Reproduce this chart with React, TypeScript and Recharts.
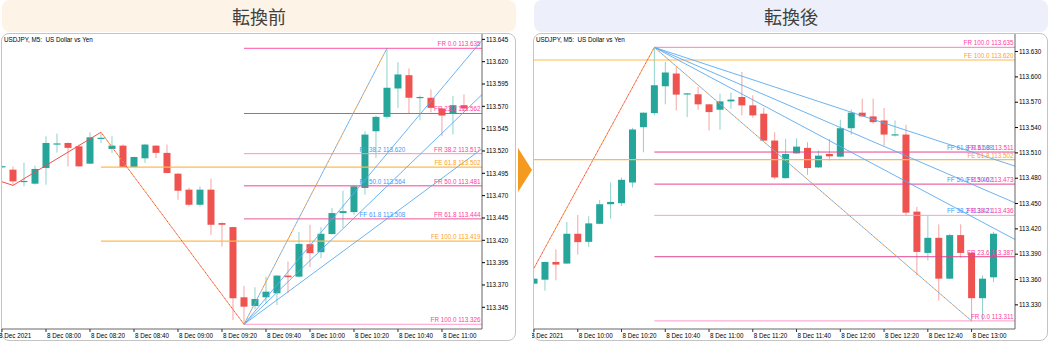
import React from "react";
import { ComposedChart, Bar, XAxis, YAxis, ReferenceLine } from "recharts";

const FONT = "'Liberation Sans', Arial, sans-serif";
const CJK = "'Noto Sans CJK JP', sans-serif";
const TITLE = "USDJPY, M5:  US Dollar vs Yen";
const FS = 6.3;

type Pt = [number, number];

// ---------- 転換前 : 5 minute bars starting 8 Dec 07:40 ----------
const beforeOpen = [
  113.5025, 113.4991, 113.486, 113.4834, 113.501, 113.5283, 113.529, 113.5252, 113.5058, 113.5345,
  113.5223, 113.526, 113.5021, 113.5118, 113.526, 113.5179, 113.4946, 113.4767, 113.4598, 113.4767,
  113.4393, 113.4348, 113.3562, 113.3465, 113.3562, 113.3607, 113.3805, 113.3793, 113.4157, 113.4067,
  113.427, 113.4505, 113.4516, 113.4786, 113.5421, 113.5582, 113.59, 113.6049, 113.5801, 113.5796,
  113.5676, 113.5616, 113.5713,
];
const beforeHigh = [
  113.504, 113.5028, 113.507, 113.5036, 113.5365, 113.5395, 113.5294, 113.5272, 113.541, 113.541,
  113.5365, 113.5275, 113.5136, 113.528, 113.5265, 113.5272, 113.4955, 113.4789, 113.4804, 113.489,
  113.44, 113.4352, 113.3689, 113.3674, 113.3793, 113.381, 113.3962, 113.4292, 113.4374, 113.4348,
  113.4561, 113.4755, 113.4815, 113.5421, 113.5597, 113.635, 113.6195, 113.6125, 113.5821, 113.5889,
  113.568, 113.5814, 113.5833,
];
const beforeLow = [
  113.5015, 113.4823, 113.4804, 113.4823, 113.4823, 113.5182, 113.5028, 113.5025, 113.5055, 113.529,
  113.5179, 113.5018, 113.5018, 113.5066, 113.5122, 113.495, 113.4654, 113.4579, 113.4579, 113.4261,
  113.413, 113.3307, 113.326, 113.3431, 113.3495, 113.3476, 113.3607, 113.3785, 113.3899, 113.4,
  113.4266, 113.4337, 113.4486, 113.471, 113.5122, 113.556, 113.5683, 113.562, 113.5544, 113.5634,
  113.5365, 113.5384, 113.5645,
];
const beforeClose = [
  113.503, 113.486, 113.4865, 113.4999, 113.529, 113.5285, 113.5235, 113.5028, 113.5353, 113.5348,
  113.526, 113.5021, 113.5133, 113.5272, 113.5179, 113.4954, 113.4755, 113.4598, 113.4767, 113.4374,
  113.4374, 113.3551, 113.3457, 113.3543, 113.3625, 113.3805, 113.3787, 113.416, 113.4056, 113.4273,
  113.4505, 113.4527, 113.4804, 113.5384, 113.5582, 113.5908, 113.6057, 113.5796, 113.5805, 113.5683,
  113.5597, 113.5713, 113.5676,
];
const beforeTickIdx = [0, 4, 8, 12, 16, 20, 24, 28, 32, 36, 40];
const beforeTickLabels = [
  "8 Dec 2021", "8 Dec 08:00", "8 Dec 08:20", "8 Dec 08:40", "8 Dec 09:00", "8 Dec 09:20",
  "8 Dec 09:40", "8 Dec 10:00", "8 Dec 10:20", "8 Dec 10:40", "8 Dec 11:00",
];
const beforeYTicks = [
  113.345, 113.37, 113.395, 113.42, 113.445, 113.47, 113.495, 113.52, 113.545, 113.57, 113.595, 113.62, 113.645,
];
const beforeFrNames = ["FR 0.0", "FR 23.6", "FR 38.2", "FR 50.0", "FR 61.8", "FR 100.0"];
const beforeFrPrices = [113.635, 113.562, 113.517, 113.481, 113.444, 113.326];
const beforeFeNames = ["FE 61.8", "FE 100.0"];
const beforeFePrices = [113.502, 113.419];
const beforeFfNames = ["FF 38.2", "FF 50.0", "FF 61.8"];
const beforeFfPrices = [113.62, 113.564, 113.508];
const beforeZigzag: Pt[] = [[-1, 113.4896], [1, 113.4815], [9, 113.541], [22, 113.326], [35, 113.635]];

// ---------- 転換後 : 5 minute bars starting 8 Dec 09:40 ----------
const afterOpen = [
  113.3551, 113.3598, 113.3808, 113.3789, 113.4142, 113.4046, 113.426, 113.4492, 113.4504, 113.4749,
  113.5404, 113.5571, 113.5889, 113.604, 113.5802, 113.5794, 113.5675, 113.5611, 113.571, 113.5762,
  113.5663, 113.5564, 113.5246, 113.4801, 113.5094, 113.5159, 113.4928, 113.5087, 113.5055, 113.5392,
  113.5576, 113.5532, 113.5484, 113.5317, 113.5317, 113.4404, 113.3915, 113.4094, 113.361, 113.4126,
  113.3915, 113.3379, 113.3626,
];
const afterHigh = [
  113.3615, 113.3812, 113.3956, 113.4281, 113.4364, 113.435, 113.4543, 113.4749, 113.4809, 113.5397,
  113.558, 113.635, 113.6178, 113.6119, 113.5806, 113.5881, 113.568, 113.5802, 113.5814, 113.6059,
  113.5782, 113.5635, 113.5345, 113.5266, 113.5273, 113.5226, 113.5127, 113.5266, 113.5492, 113.5615,
  113.5742, 113.5742, 113.5631, 113.5484, 113.5433, 113.446, 113.4352, 113.4254, 113.4142, 113.4254,
  113.392, 113.365, 113.4165,
];
const afterLow = [
  113.355, 113.3467, 113.359, 113.3785, 113.3896, 113.3987, 113.4255, 113.432, 113.4471, 113.4689,
  113.5106, 113.5544, 113.5675, 113.5603, 113.5523, 113.5611, 113.5365, 113.5373, 113.5623, 113.5544,
  113.5516, 113.524, 113.479, 113.4795, 113.509, 113.4841, 113.4921, 113.5008, 113.5047, 113.5314,
  113.553, 113.5445, 113.5186, 113.5293, 113.4352, 113.365, 113.3825, 113.3352, 113.3605, 113.3856,
  113.311, 113.3115, 113.357,
];
const afterClose = [
  113.361, 113.3808, 113.3777, 113.4142, 113.4043, 113.4265, 113.4492, 113.4519, 113.4781, 113.5377,
  113.5576, 113.5901, 113.6052, 113.579, 113.5805, 113.5675, 113.5583, 113.571, 113.5731, 113.5663,
  113.5544, 113.5246, 113.4809, 113.5087, 113.5174, 113.4921, 113.5067, 113.5059, 113.5392, 113.5576,
  113.5532, 113.5464, 113.5317, 113.532, 113.4392, 113.3927, 113.4094, 113.361, 113.4126, 113.3915,
  113.3379, 113.361, 113.4142,
];
const afterTickIdx = [0, 4, 8, 12, 16, 20, 24, 28, 32, 36, 40];
const afterTickLabels = [
  "8 Dec 2021", "8 Dec 10:00", "8 Dec 10:20", "8 Dec 10:40", "8 Dec 11:00", "8 Dec 11:20",
  "8 Dec 11:40", "8 Dec 12:00", "8 Dec 12:20", "8 Dec 12:40", "8 Dec 13:00",
];
const afterYTicks = [
  113.33, 113.36, 113.39, 113.42, 113.45, 113.48, 113.51, 113.54, 113.57, 113.6, 113.63,
];
const afterFrNames = ["FR 100.0", "FR 61.8", "FR 50.0", "FR 38.2", "FR 23.6", "FR 0.0"];
const afterFrPrices = [113.635, 113.511, 113.473, 113.436, 113.387, 113.311];
const afterFeNames = ["FE 100.0", "FE 61.8"];
const afterFePrices = [113.62, 113.502];
const afterFfNames = ["FF 61.8", "FF 50.0", "FF 38.2"];
const afterFfPrices = [113.508, 113.462, 113.421];
const afterZigzag: Pt[] = [[-2, 113.326], [11, 113.635], [40, 113.311]];

const fanRatios = [0.382, 0.5, 0.618];

// ---------- styles ----------
const UP = "#26a69a";
const DOWN = "#ef5350";
const UP_WICK = "#8fd3cb";
const DOWN_WICK = "#f6a4a3";
const AXIS = "#666";
const FR_TEXT = "#ff3d9e";
const FE_LINE = "#ffb84d";
const FE_TEXT = "#ffa21a";
const FF_LINE = "#5aaaf2";
const FF_TEXT = "#3d9cff";
const RED_LINE = "#f0504a";
const ORANGE_LINE = "#ff9a3c";

interface Cfg {
  open: number[];
  high: number[];
  low: number[];
  close: number[];
  xDomain: [number, number];
  yDomain: [number, number];
  yTicks: number[];
  yWidth: number;
  tickIdx: number[];
  tickLabels: string[];
  frNames: string[];
  frPrices: number[];
  frColors: string[];
  frStart: number;
  feNames: string[];
  fePrices: number[];
  feStart: number;
  ffNames: string[];
  ffPrices: number[];
  ffAt: number[];
  ffStart: number;
  zigzag: Pt[];
  zigzagKind: string[];
  fanFrom: number;
  fanTo: number;
}

const CandleShape = (props: any) => {
  const { x, y, width, height, payload } = props;
  if (!payload || x == null) return null;
  const top = Math.min(y, y + height);
  const h = Math.abs(height);
  const { open, close, high, low } = payload;
  const up = close >= open;
  const k = high > low ? h / (high - low) : 0;
  const yOf = (v: number) => top + (high - v) * k;
  const bTop = yOf(Math.max(open, close));
  const bBot = yOf(Math.min(open, close));
  const cx = x + width / 2;
  return (
    <g>
      <line x1={cx} x2={cx} y1={top} y2={top + h} stroke={up ? UP_WICK : DOWN_WICK} strokeWidth={1} />
      <rect x={x} y={bTop} width={width} height={Math.max(1.2, bBot - bTop)} fill={up ? UP : DOWN} />
    </g>
  );
};

const TimeTick = (props: any) => {
  const { x, y, payload, idx, labels } = props;
  const n = idx.indexOf(payload.value);
  const first = n === 0;
  return (
    <g>
      <line x1={x} x2={x} y1={y} y2={y + 3} stroke="#333" strokeWidth={1} />
      <text x={first ? x - 3 : x + 1} y={y + 9} fontSize={FS} fontFamily={FONT} fill="#000">
        {labels[n]}
      </text>
    </g>
  );
};

const endLabel = (text: string, color: string) => (p: any) => {
  const vb = p.viewBox || {};
  return (
    <text x={vb.x + vb.width - 1.5} y={vb.y - 2} textAnchor="end" fontSize={FS} fontFamily={FONT} fill={color}>
      {text}
    </text>
  );
};

const startLabel = (text: string, color: string) => (p: any) => {
  const vb = p.viewBox || {};
  return (
    <text x={vb.x} y={vb.y - 2} textAnchor="start" fontSize={FS} fontFamily={FONT} fill={color}>
      {text}
    </text>
  );
};

const seg = (a: Pt, b: Pt) => [
  { x: a[0], y: a[1] },
  { x: b[0], y: b[1] },
];

function FiboChart({ c }: { c: Cfg }) {
  const data = c.open.map((o, i) => ({
    i,
    open: o,
    high: c.high[i],
    low: c.low[i],
    close: c.close[i],
    range: [c.low[i], c.high[i]],
  }));
  const xMin = c.xDomain[0];
  const xMax = c.xDomain[1];
  const origin = c.zigzag.find((p) => p[0] === c.fanFrom) as Pt;
  const other = c.zigzag.find((p) => p[0] === c.fanTo) as Pt;
  // fan rays: from the swing point through the ratio level at the other swing, run out to the axis
  const fans: Pt[] = fanRatios.map((f) => {
    const ty = origin[1] + f * (other[1] - origin[1]);
    const slope = (ty - origin[1]) / (other[0] - origin[0]);
    return [xMax + 1, origin[1] + slope * (xMax + 1 - origin[0])];
  });

  const zig: React.ReactNode[] = [];
  for (let k = 0; k < c.zigzag.length - 1; k++) {
    const s = seg(c.zigzag[k], c.zigzag[k + 1]);
    const kind = c.zigzagKind[k];
    if (kind === "solid") {
      zig.push(<ReferenceLine key={`z${k}`} segment={s} stroke={RED_LINE} strokeWidth={1} ifOverflow="hidden" />);
    } else {
      const second = kind === "fan" ? FF_LINE : RED_LINE;
      zig.push(<ReferenceLine key={`z${k}a`} segment={s} stroke={ORANGE_LINE} strokeWidth={1} strokeDasharray="2 2" ifOverflow="hidden" />);
      zig.push(
        <ReferenceLine key={`z${k}b`} segment={s} stroke={second} strokeWidth={1} strokeDasharray="2 2" strokeDashoffset={2} ifOverflow="hidden" />
      );
    }
  }

  return (
    <ComposedChart width={516} height={342} data={data} margin={{ top: 34, right: 1, bottom: 0, left: 2 }}>
      <XAxis
        type="number"
        dataKey="i"
        domain={c.xDomain}
        allowDataOverflow
        ticks={c.tickIdx}
        interval={0}
        tickLine={false}
        tickSize={0}
        tickMargin={0}
        height={13}
        axisLine={{ stroke: AXIS }}
        tick={<TimeTick idx={c.tickIdx} labels={c.tickLabels} />}
      />
      <YAxis
        orientation="right"
        type="number"
        domain={c.yDomain}
        allowDataOverflow
        ticks={c.yTicks}
        interval={0}
        width={c.yWidth}
        tickSize={3}
        tickMargin={1}
        tickLine={{ stroke: "#000" }}
        axisLine={{ stroke: AXIS }}
        tick={{ fontSize: FS, fill: "#000", fontFamily: FONT }}
        tickFormatter={(v: number) => v.toFixed(3)}
      />
      {c.fePrices.map((p, k) => (
        <ReferenceLine
          key={`fe${k}`}
          segment={seg([c.feStart, p], [xMax, p])}
          stroke={FE_LINE}
          strokeWidth={1.2}
          ifOverflow="hidden"
        />
      ))}
      {c.frPrices.map((p, k) => (
        <ReferenceLine
          key={`fr${k}`}
          segment={seg([c.frStart, p], [xMax, p])}
          stroke={c.frColors[k]}
          strokeWidth={1}
          ifOverflow="hidden"
        />
      ))}
      {fans.map((e, k) => (
        <ReferenceLine key={`ff${k}`} segment={seg(origin, e)} stroke={FF_LINE} strokeWidth={0.9} ifOverflow="hidden" />
      ))}
      {zig}
      <Bar dataKey="range" barSize={7} isAnimationActive={false} shape={<CandleShape />} />
      {c.ffAt.map((p, k) => (
        <ReferenceLine
          key={`ffl${k}`}
          segment={seg([c.ffStart, p], [xMax, p])}
          stroke="none"
          ifOverflow="hidden"
          label={startLabel(`${c.ffNames[k]} ${c.ffPrices[k].toFixed(3)}`, FF_TEXT)}
        />
      ))}
      {c.fePrices.map((p, k) => (
        <ReferenceLine
          key={`fel${k}`}
          segment={seg([xMin, p], [xMax, p])}
          stroke="none"
          ifOverflow="hidden"
          label={endLabel(`${c.feNames[k]} ${p.toFixed(3)}`, FE_TEXT)}
        />
      ))}
      {c.frPrices.map((p, k) => (
        <ReferenceLine
          key={`frl${k}`}
          segment={seg([xMin, p], [xMax, p])}
          stroke="none"
          ifOverflow="hidden"
          label={endLabel(`${c.frNames[k]} ${p.toFixed(3)}`, FR_TEXT)}
        />
      ))}
    </ComposedChart>
  );
}

const beforeCfg: Cfg = {
  open: beforeOpen,
  high: beforeHigh,
  low: beforeLow,
  close: beforeClose,
  xDomain: [0, 43.64],
  yDomain: [113.3207, 113.651],
  yTicks: beforeYTicks,
  yWidth: 33,
  tickIdx: beforeTickIdx,
  tickLabels: beforeTickLabels,
  frNames: beforeFrNames,
  frPrices: beforeFrPrices,
  frColors: ["#ff4fa8", "#e8478f", "#ff8fc7", "#ff3d9f", "#e85898", "#ff9acc"],
  frStart: 22,
  feNames: beforeFeNames,
  fePrices: beforeFePrices,
  feStart: 9,
  ffNames: beforeFfNames,
  ffPrices: beforeFfPrices,
  ffAt: [beforeFrPrices[2], beforeFrPrices[3], beforeFrPrices[4]],
  ffStart: 32.5,
  zigzag: beforeZigzag,
  zigzagKind: ["solid", "solid", "warm", "fan"],
  fanFrom: 22,
  fanTo: 35,
};

const afterCfg: Cfg = {
  open: afterOpen,
  high: afterHigh,
  low: afterLow,
  close: afterClose,
  xDomain: [0, 43.97],
  yDomain: [113.3014, 113.6508],
  yTicks: afterYTicks,
  yWidth: 32,
  tickIdx: afterTickIdx,
  tickLabels: afterTickLabels,
  frNames: afterFrNames,
  frPrices: afterFrPrices,
  frColors: ["#ff7fbf", "#e8428f", "#e8458f", "#ff9acc", "#e0448c", "#ff9acc"],
  frStart: 11,
  feNames: afterFeNames,
  fePrices: afterFePrices,
  feStart: -1,
  ffNames: afterFfNames,
  ffPrices: afterFfPrices,
  ffAt: [afterFrPrices[1], afterFrPrices[2], afterFrPrices[3]],
  ffStart: 37.75,
  zigzag: afterZigzag,
  zigzagKind: ["warm", "fan"],
  fanFrom: 11,
  fanTo: 40,
};

const headerStyle: React.CSSProperties = {
  position: "absolute",
  top: 0,
  width: 514,
  height: 32,
  borderRadius: 8,
  display: "flex",
  alignItems: "center",
  justifyContent: "center",
  fontFamily: CJK,
  fontSize: 18,
  color: "#404040",
};

const panelStyle: React.CSSProperties = {
  position: "absolute",
  top: 33,
  width: 515,
  height: 308,
  border: "1px solid #c4c4c4",
  borderRadius: 8,
  boxSizing: "border-box",
  background: "#fff",
};

const titleStyle: React.CSSProperties = {
  position: "absolute",
  top: 36,
  fontFamily: FONT,
  fontSize: FS,
  color: "#000",
  whiteSpace: "pre",
};

export default function App() {
  return (
    <div style={{ position: "fixed", left: 0, top: 0, width: 1050, height: 342, background: "#fff", overflow: "hidden" }}>
      <div style={{ ...headerStyle, left: 2, background: "#fdf3e6" }}>転換前</div>
      <div style={{ ...headerStyle, left: 534, background: "#edf0fa" }}>転換後</div>
      <div style={{ ...panelStyle, left: 1 }} />
      <div style={{ ...panelStyle, left: 533 }} />
      <div style={{ position: "absolute", left: 0, top: 0 }}>
        <FiboChart c={beforeCfg} />
      </div>
      <div style={{ position: "absolute", left: 532, top: 0 }}>
        <FiboChart c={afterCfg} />
      </div>
      <div style={{ ...titleStyle, left: 4 }}>{TITLE}</div>
      <div style={{ ...titleStyle, left: 536 }}>{TITLE}</div>
      <svg style={{ position: "absolute", left: 517, top: 147 }} width={16} height={46}>
        <polygon points="1,1 15,23 1,45" fill="#f49a1e" />
      </svg>
    </div>
  );
}
